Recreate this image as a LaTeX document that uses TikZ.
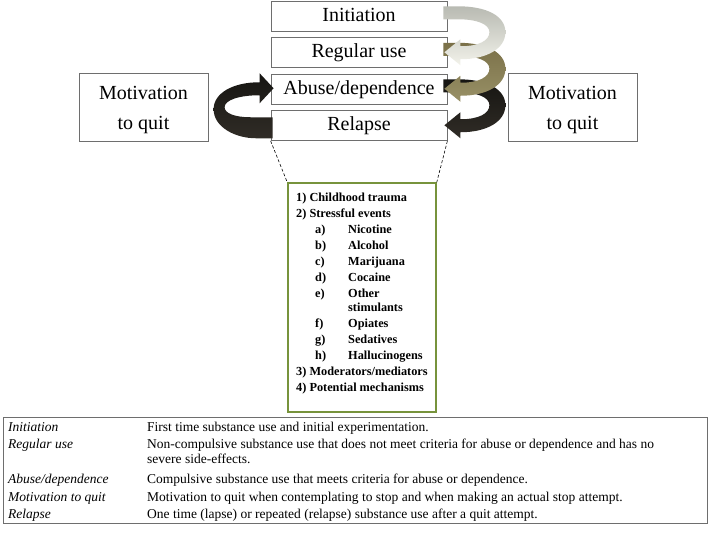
\documentclass[tikz,border=0pt]{standalone}
\usepackage{fontspec}
\setmainfont{Liberation Serif}
\usetikzlibrary{%
  positioning
 ,calc
}
\definecolor{boxgray}{RGB}{110,110,110}
\definecolor{mechgreen}{RGB}{119,147,60}
\definecolor{palegray}{RGB}{184,186,178}
\definecolor{paleend}{RGB}{242,242,234}
\definecolor{olivetop}{RGB}{122,112,72}
\definecolor{olivebot}{RGB}{152,144,102}
\definecolor{darktop}{RGB}{22,21,18}
\definecolor{darkbot}{RGB}{48,44,38}
\tikzstyle{stage}=[draw=boxgray,line width=0.8pt,minimum width=176pt,minimum height=30pt,inner sep=0pt,font=\fontsize{20}{24}\selectfont,text height=14pt,text depth=4pt]
\tikzstyle{motiv}=[draw=boxgray,line width=0.8pt,minimum width=129pt,minimum height=68pt,align=center,font=\fontsize{20}{30}\selectfont]
\tikzstyle{mech}=[draw=mechgreen,line width=1.5pt,minimum width=148pt,minimum height=229pt]
\tikzstyle{defs}=[draw=boxgray,line width=0.8pt,minimum width=704pt,minimum height=106pt]
\tikzstyle{pale}=[top color=palegray,bottom color=paleend]
\tikzstyle{olive}=[top color=olivetop,bottom color=olivebot]
\tikzstyle{dark}=[top color=darktop,bottom color=darkbot]
% curved block arrow on the right side, from #1 down to #2
\newcommand{\loopright}[3]{%
  \begin{scope}[shift={($(#1.east)!0.5!(#2.east)$)}]
    \path[#3] (-4,-28) -- (10,-28) .. controls (40,-28) and (58,-18) .. (58,-2)
      .. controls (58,14) and (40,25) .. (13,25) -- (13,31) -- (-3,18) -- (13,5) -- (13,12)
      .. controls (32,12) and (42,6) .. (42,-2) .. controls (42,-10) and (30,-15) .. (10,-15)
      -- (-4,-15) -- cycle;
  \end{scope}}

\begin{document}
\begin{tikzpicture}[x=1pt,y=-1pt,node distance=36.5pt,on grid]
  \useasboundingbox (0,0) rectangle (711,533);
  \node[stage] (ini)               at (359,16) {Initiation};
  \node[stage] (reg) [below=of ini]            {Regular use};
  \node[stage] (abu) [below=of reg]            {Abuse/dependence};
  \node[stage] (rel) [below=of abu]            {Relapse};
  \node[motiv] (quitL) at (143.5,107) {\rule{0pt}{20pt}Motivation\\to quit};
  \node[motiv] (quitR) at (572.5,107) {\rule{0pt}{20pt}Motivation\\to quit};
%
  \loopright{abu}{rel}{dark}
  \loopright{reg}{abu}{olive}
  \loopright{ini}{reg}{pale}
  \begin{scope}[shift={($(abu.west)!0.5!(rel.west)$)}]
    \path[dark] (2,10) -- (-20,10) .. controls (-36,10) and (-46,6) .. (-46,0)
      .. controls (-46,-7) and (-32,-12) .. (-11,-12) -- (-11,-4) -- (3,-19) -- (-11,-34) -- (-11,-25)
      .. controls (-38,-25) and (-57,-14) .. (-57,2) .. controls (-57,20) and (-35,31) .. (-15,31)
      -- (2,31) -- cycle;
  \end{scope}
%
  \node[mech] (mech) at (362,297.5) {};
  \draw[line width=0.6pt,dash pattern=on 3pt off 2pt] (rel.south west) -- (mech.north west);
  \draw[line width=0.6pt,dash pattern=on 3pt off 2pt] (rel.south east) -- (mech.north east);
  \node[anchor=north west,inner sep=0pt,font=\fontsize{12.3}{16}\selectfont\bfseries] (mechlist) at (296,190) {%
    \begin{tabular}{@{}p{19pt}@{}p{33pt}@{}l@{}}
      \multicolumn{3}{@{}l@{}}{1) Childhood trauma}\\
      \multicolumn{3}{@{}l@{}}{2) Stressful events}\\
      & a) & Nicotine\\
      & b) & Alcohol\\
      & c) & Marijuana\\
      & d) & Cocaine\\
      & e) & Other\\[-2pt]
      &    & stimulants\\
      & f) & Opiates\\
      & g) & Sedatives\\
      & h) & Hallucinogens\\
      \multicolumn{3}{@{}l@{}}{3) Moderators/mediators}\\
      \multicolumn{3}{@{}l@{}}{4) Potential mechanisms}
    \end{tabular}};
%
  \node[defs] (defs) at (355,470) {};
  \node[anchor=north west,inner sep=0pt,font=\fontsize{13.5}{17.5}\selectfont] (defstext) at (8,419) {%
    \begin{tabular}{@{}p{139pt}@{}l@{}}
      \textit{Initiation} & First time substance use and initial experimentation.\\
      \textit{Regular use} & Non-compulsive substance use that does not meet criteria for abuse or dependence and has no\\[-3pt]
      & severe side-effects.\\[3pt]
      \textit{Abuse/dependence} & Compulsive substance use that meets criteria for abuse or dependence.\\
      \textit{Motivation to quit} & Motivation to quit when contemplating to stop and when making an actual stop attempt.\\
      \textit{Relapse} & One time (lapse) or repeated (relapse) substance use after a quit attempt.
    \end{tabular}};
\end{tikzpicture}
\end{document}
